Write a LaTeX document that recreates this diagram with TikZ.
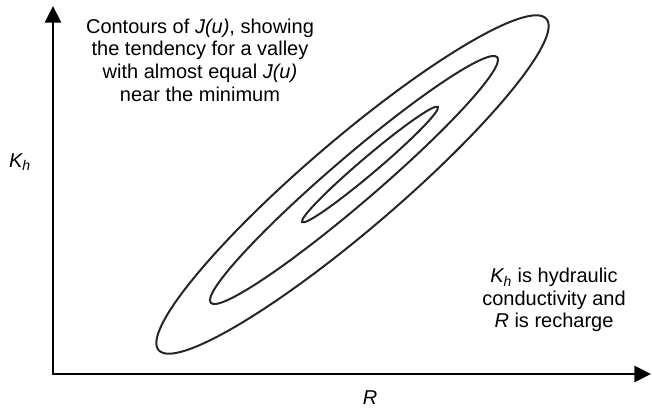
\documentclass[tikz,border=0pt]{standalone}
\usepackage{fontspec}
\setmainfont{Liberation Sans}
\usetikzlibrary{arrows.meta}
\begin{document}
\begin{tikzpicture}[x=0.75pt,y=-0.75pt,
  axisline/.style={line width=2.2pt,line join=miter,
    {Triangle[length=12.5pt,width=12pt]}-{Triangle[length=12.5pt,width=12pt]}},
  contour/.style={line width=1.5pt,black!85},
  lbl/.style={font=\fontsize{15}{17}\selectfont,align=center,inner sep=0pt}]
\useasboundingbox (0,0) rectangle (652,410);
\coordinate (origin) at (53,374);
\coordinate (ytip) at (53,6);
\coordinate (xtip) at (651,374);
\draw[axisline] (ytip) -- (origin) -- (xtip);
% contours
\draw[contour,shift={(352.5,184.5)},rotate=40.5] (0,0) ellipse [x radius=255, y radius=45.5];
\draw[contour,shift={(354,180)},rotate=40.6] (0,0) ellipse [x radius=188.7, y radius=23];
\draw[contour,shift={(370,164.5)},rotate=40.3] (0,0) ellipse [x radius=89, y radius=8.3];
% labels
\node[lbl] (title) at (200,60) {Contours of \textit{J(u)}, showing\\the tendency for a valley\\with almost equal \textit{J(u)}\\near the minimum};
\node[lbl] (note) at (554,300) {\textit{K\textsubscript{h}} is hydraulic\\conductivity and\\\textit{R} is recharge};
\node[lbl] (ylabel) at (20,162) {\textit{K\textsubscript{h}}};
\node[lbl] (xlabel) at (370,398) {\textit{R}};
\end{tikzpicture}
\end{document}
